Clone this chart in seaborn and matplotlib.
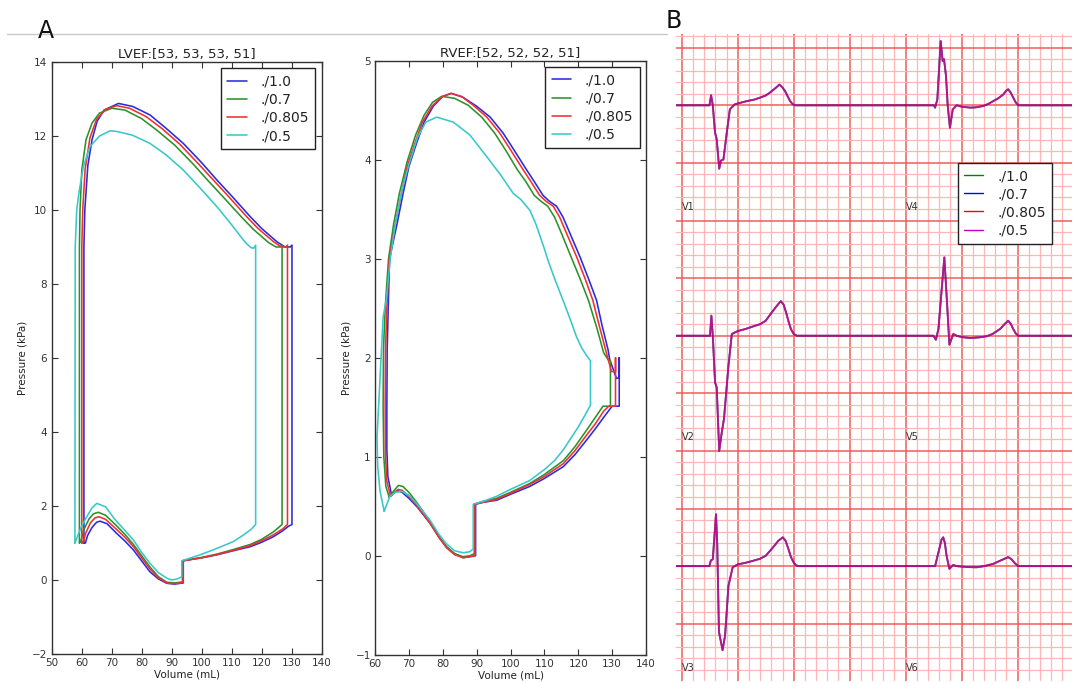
import numpy as np
import pandas as pd
import matplotlib
matplotlib.use("Agg")
import matplotlib.pyplot as plt
import seaborn as sns
from matplotlib.ticker import MultipleLocator
from matplotlib.lines import Line2D

# ---------------- data ----------------
series_labels = ["./1.0", "./0.7", "./0.805", "./0.5"]
lv_title = "LVEF:[53, 53, 53, 51]"
rv_title = "RVEF:[52, 52, 52, 51]"

# LV pressure-volume loops (mL, kPa)
lv_v_10 = [60.8, 61.3, 62.0, 63.5, 65.0, 66.2, 68.5, 71.7, 74.5, 77.3, 80.0, 82.8, 85.6, 88.4, 91.0, 93.9,
           93.9, 100.0, 105.1, 110.0, 116.2, 120.0, 123.9, 127.0, 128.9, 130.1,
           130.1, 129.5, 127.8, 125.1, 120.0, 116.2, 110.0, 105.1, 100.0, 93.9,
           88.0, 82.8, 77.0, 72.3, 67.5, 65.2, 63.5, 62.1, 61.1, 60.8, 60.8]
lv_p_10 = [1.00, 1.00, 1.20, 1.42, 1.56, 1.59, 1.52, 1.26, 1.05, 0.81, 0.52, 0.22, 0.03, -0.09, -0.11, -0.08,
           0.52, 0.60, 0.68, 0.78, 0.90, 1.02, 1.17, 1.33, 1.45, 1.50,
           9.05, 9.00, 9.00, 9.14, 9.50, 9.82, 10.38, 10.81, 11.28, 11.80,
           12.22, 12.57, 12.80, 12.88, 12.70, 12.40, 11.90, 11.20, 10.00, 9.00, 1.00]

lv_v_07 = [59.3, 59.8, 60.7, 62.5, 64.0, 65.6, 68.0, 71.5, 74.5, 77.3, 80.0, 82.8, 85.6, 88.4, 91.0, 93.6,
           93.6, 100.0, 105.1, 110.0, 116.2, 120.0, 123.9, 126.8,
           126.8, 126.2, 124.8, 122.3, 117.2, 113.4, 107.2, 102.3, 97.2, 91.1,
           85.2, 80.0, 74.5, 70.1, 66.0, 63.5, 61.5, 60.1, 59.5, 59.3, 59.3]
lv_p_07 = [1.00, 1.05, 1.35, 1.65, 1.79, 1.83, 1.75, 1.48, 1.23, 0.96, 0.66, 0.35, 0.09, -0.06, -0.08, -0.05,
           0.52, 0.61, 0.70, 0.81, 0.96, 1.10, 1.30, 1.50,
           9.05, 9.00, 9.00, 9.12, 9.48, 9.80, 10.35, 10.78, 11.24, 11.75,
           12.15, 12.47, 12.70, 12.75, 12.62, 12.35, 11.90, 11.08, 10.00, 9.00, 1.00]

lv_v_0805 = [60.1, 60.6, 61.3, 63.0, 64.5, 65.8, 68.0, 71.5, 74.5, 77.3, 80.0, 82.8, 85.6, 88.4, 91.0, 93.8,
             93.8, 100.0, 105.1, 110.0, 116.2, 120.0, 123.9, 127.0, 128.6,
             128.6, 128.0, 126.6, 124.0, 118.8, 115.0, 108.8, 103.9, 98.8, 92.7,
             86.8, 81.6, 76.0, 71.7, 68.0, 65.0, 62.8, 61.2, 60.4, 60.1, 60.1]
lv_p_0805 = [1.00, 1.02, 1.25, 1.55, 1.68, 1.71, 1.64, 1.38, 1.15, 0.90, 0.60, 0.30, 0.06, -0.08, -0.10, -0.07,
             0.52, 0.60, 0.69, 0.79, 0.93, 1.06, 1.22, 1.38, 1.50,
             9.05, 9.00, 9.00, 9.14, 9.50, 9.82, 10.38, 10.81, 11.26, 11.78,
             12.20, 12.52, 12.75, 12.82, 12.72, 12.45, 11.95, 11.10, 10.00, 9.00, 1.00]

lv_v_05 = [57.8, 58.5, 60.0, 61.9, 63.5, 65.1, 68.0, 71.0, 74.0, 77.3, 80.0, 82.8, 85.6, 88.4, 90.0, 92.0, 93.4,
           93.4, 99.5, 105.0, 110.6, 114.0, 116.5, 118.0,
           118.0, 117.4, 116.5, 115.5, 113.9, 110.0, 105.1, 100.0, 93.9, 88.0,
           82.8, 77.0, 72.0, 69.5, 66.0, 62.8, 60.6, 59.2, 58.4, 57.9, 57.8]
lv_p_05 = [1.00, 1.15, 1.45, 1.73, 1.95, 2.07, 1.98, 1.65, 1.38, 1.08, 0.75, 0.45, 0.20, 0.05, 0.00, 0.03, 0.09,
           0.52, 0.68, 0.85, 1.04, 1.22, 1.37, 1.50,
           9.05, 8.97, 8.98, 9.05, 9.19, 9.60, 10.09, 10.55, 11.08, 11.50,
           11.80, 12.02, 12.12, 12.14, 12.00, 11.71, 11.17, 10.50, 10.00, 9.00, 1.00]

# RV pressure-volume loops (mL, kPa)
rv_v_10 = [64.9, 65.8, 66.9, 68.0, 70.0, 72.5, 76.2, 79.0, 81.1, 83.5,
           86.0, 88.0, 89.7, 89.7, 92.0, 95.9, 100.0, 105.7, 110.0, 115.6,
           119.0, 122.5, 125.0, 128.0, 130.0, 132.1, 132.1, 132.1, 131.3, 129.3,
           128.8, 127.0, 125.4, 123.0, 120.5, 117.5, 115.5, 113.6, 111.5, 109.6,
           107.0, 104.7, 101.0, 97.8, 94.0, 90.0, 86.0, 82.6, 80.0, 77.2,
           74.5, 72.3, 70.0, 68.3, 66.5, 64.3, 63.9, 63.6, 63.5, 63.5, 63.8, 64.9]
rv_p_10 = [0.61, 0.64, 0.655, 0.64, 0.58, 0.49, 0.33, 0.18, 0.09, 0.02,
           -0.02, -0.01, 0.00, 0.52, 0.54, 0.56, 0.62, 0.70, 0.78, 0.90,
           1.02, 1.17, 1.28, 1.42, 1.51, 1.51, 2.00, 1.80, 1.79, 1.98,
           2.08, 2.33, 2.58, 2.80, 3.02, 3.26, 3.42, 3.53, 3.58, 3.64,
           3.78, 3.90, 4.10, 4.27, 4.43, 4.54, 4.63, 4.67, 4.64, 4.54,
           4.38, 4.17, 3.93, 3.66, 3.35, 3.00, 2.50, 2.08, 1.50, 1.07, 0.80, 0.61]

rv_v_07 = [64.2, 65.2, 66.9, 68.2, 70.0, 72.5, 76.2, 79.0, 81.1, 83.5,
           86.0, 88.0, 89.3, 89.3, 92.0, 95.9, 100.0, 105.7, 110.0, 115.6,
           119.0, 122.5, 125.5, 127.3, 129.5, 129.5, 128.8, 127.5, 125.5, 123.0,
           120.5, 117.5, 115.0, 113.0, 111.0, 109.0, 107.0, 104.5, 102.0, 98.5,
           95.3, 91.5, 87.5, 83.5, 79.7, 77.0, 74.5, 72.0, 69.5, 67.2,
           65.5, 64.0, 63.0, 62.5, 62.4, 62.6, 63.2, 64.2]
rv_p_07 = [0.59, 0.64, 0.71, 0.70, 0.64, 0.53, 0.35, 0.19, 0.09, 0.02,
           -0.01, 0.00, 0.02, 0.52, 0.55, 0.58, 0.64, 0.73, 0.82, 0.96,
           1.10, 1.27, 1.42, 1.51, 1.51, 1.97, 1.98, 2.05, 2.30, 2.58,
           2.80, 3.05, 3.26, 3.42, 3.53, 3.58, 3.64, 3.78, 3.90, 4.10,
           4.27, 4.43, 4.55, 4.62, 4.64, 4.58, 4.45, 4.25, 3.98, 3.66,
           3.35, 3.00, 2.50, 2.08, 1.50, 1.00, 0.70, 0.59]

rv_v_0805 = [64.6, 65.5, 66.8, 68.0, 70.0, 72.5, 76.2, 79.0, 81.1, 83.5,
             86.0, 88.0, 89.5, 89.5, 92.0, 95.9, 100.0, 105.7, 110.0, 115.6,
             119.0, 122.5, 125.0, 127.5, 129.0, 131.0, 131.0, 131.0, 129.8, 128.3,
             126.0, 124.3, 122.0, 119.5, 116.5, 114.5, 112.6, 110.5, 108.6, 106.0,
             103.7, 100.0, 96.8, 93.0, 89.0, 85.5, 82.3, 79.5, 76.8, 74.0,
             71.8, 69.5, 67.8, 66.0, 64.2, 63.5, 63.1, 63.0, 63.1, 63.5, 64.6]
rv_p_0805 = [0.60, 0.63, 0.67, 0.66, 0.60, 0.50, 0.33, 0.18, 0.08, 0.01,
             -0.02, -0.01, 0.00, 0.52, 0.54, 0.57, 0.63, 0.72, 0.80, 0.93,
             1.06, 1.22, 1.33, 1.46, 1.51, 1.51, 2.00, 1.86, 1.86, 2.05,
             2.35, 2.58, 2.80, 3.02, 3.26, 3.42, 3.53, 3.58, 3.64, 3.78,
             3.90, 4.10, 4.27, 4.43, 4.55, 4.64, 4.67, 4.63, 4.54, 4.38,
             4.17, 3.93, 3.66, 3.35, 3.00, 2.50, 2.08, 1.50, 1.00, 0.75, 0.60]

rv_v_05 = [62.7, 63.5, 64.4, 66.0, 67.9, 70.0, 72.5, 76.2, 79.0, 81.1,
           83.5, 86.0, 88.0, 89.0, 89.0, 92.0, 95.9, 100.0, 105.7, 110.0,
           113.0, 115.6, 117.5, 120.0, 122.0, 123.6, 123.6, 122.5, 121.0, 119.5,
           117.5, 115.5, 113.0, 111.0, 110.0, 107.5, 105.7, 103.0, 100.8, 97.0,
           93.0, 88.0, 83.1, 78.2, 75.0, 72.5, 70.0, 68.0, 66.0, 64.5,
           63.4, 62.4, 61.2, 60.6, 60.8, 61.5, 62.7]
rv_p_05 = [0.45, 0.52, 0.60, 0.64, 0.65, 0.61, 0.52, 0.36, 0.21, 0.12,
           0.05, 0.03, 0.04, 0.07, 0.52, 0.55, 0.60, 0.67, 0.76, 0.87,
           0.96, 1.07, 1.17, 1.30, 1.42, 1.52, 1.97, 2.02, 2.10, 2.21,
           2.40, 2.58, 2.80, 2.99, 3.10, 3.35, 3.49, 3.60, 3.66, 3.85,
           4.03, 4.25, 4.38, 4.43, 4.38, 4.22, 3.95, 3.70, 3.35, 3.00,
           2.60, 2.41, 1.60, 1.20, 0.90, 0.65, 0.45]

# ECG leads: time (s, from lead start) and amplitude (mV, relative to baseline)
ecg_leads = ["V1", "V2", "V3", "V4", "V5", "V6"]
v1_t = [-0.03, 0.099, 0.105, 0.111, 0.119, 0.125, 0.134, 0.140, 0.149, 0.161, 0.172, 0.19,
        0.23, 0.26, 0.28, 0.30, 0.315, 0.335, 0.349, 0.358, 0.369, 0.378, 0.387, 0.396, 0.405, 0.8]
v1_v = [0, 0, 0.087, 0, -0.237, -0.295, -0.55, -0.48, -0.47, -0.237, -0.035, 0.009,
        0.035, 0.05, 0.067, 0.085, 0.11, 0.15, 0.18, 0.16, 0.124, 0.08, 0.037, 0.01, 0, 0]
v2_t = [-0.03, 0.101, 0.106, 0.111, 0.119, 0.125, 0.134, 0.143, 0.151, 0.167, 0.179,
        0.2, 0.23, 0.26, 0.28, 0.30, 0.321, 0.34, 0.354, 0.364, 0.373, 0.382, 0.39, 0.40, 0.411, 0.8]
v2_v = [0, 0, 0.174, 0, -0.405, -0.448, -1.0, -0.84, -0.72, -0.26, 0.015,
        0.04, 0.06, 0.085, 0.10, 0.13, 0.20, 0.26, 0.30, 0.27, 0.20, 0.12, 0.058, 0.015, 0, 0]
v3_t = [-0.03, 0.099, 0.104, 0.111, 0.1225, 0.127, 0.133, 0.146, 0.155, 0.167, 0.182,
        0.2, 0.23, 0.26, 0.28, 0.30, 0.327, 0.345, 0.361, 0.371, 0.381, 0.39, 0.399, 0.408, 0.417, 0.8]
v3_v = [0, 0, 0.049, 0.06, 0.45, 0.18, -0.57, -0.73, -0.60, -0.17, -0.01,
        0.015, 0.03, 0.05, 0.064, 0.09, 0.165, 0.22, 0.25, 0.22, 0.15, 0.08, 0.035, 0.008, 0, 0]
v4_t = [0.0, 0.101, 0.105, 0.113, 0.125, 0.132, 0.137, 0.144, 0.15, 0.158, 0.168, 0.182,
        0.2, 0.23, 0.25, 0.277, 0.295, 0.313, 0.33, 0.349, 0.358, 0.366, 0.375, 0.384, 0.393, 0.402, 0.62]
v4_v = [0, 0, -0.02, 0.05, 0.558, 0.385, 0.40, 0.254, 0, -0.194, -0.035, 0,
        -0.012, -0.02, -0.018, -0.006, 0.012, 0.037, 0.06, 0.095, 0.125, 0.139, 0.11, 0.067, 0.025, 0, 0]
v5_t = [0.0, 0.099, 0.108, 0.117, 0.138, 0.149, 0.156, 0.17, 0.182,
        0.2, 0.23, 0.26, 0.289, 0.31, 0.337, 0.355, 0.366, 0.375, 0.384, 0.393, 0.402, 0.62]
v5_v = [0, 0, -0.035, 0.06, 0.68, 0.23, -0.078, 0.015, 0,
        -0.012, -0.02, -0.015, -0.005, 0.015, 0.058, 0.105, 0.13, 0.105, 0.058, 0.02, 0, 0]
v6_t = [0.0, 0.105, 0.12, 0.128, 0.134, 0.14, 0.146, 0.156, 0.17, 0.182,
        0.22, 0.254, 0.28, 0.313, 0.34, 0.366, 0.378, 0.39, 0.402, 0.62]
v6_v = [0, 0, 0.15, 0.23, 0.25, 0.2, 0.09, -0.023, 0.01, 0,
        -0.008, -0.01, 0, 0.02, 0.05, 0.078, 0.06, 0.025, 0, 0]

# ---------------- style ----------------
sns.set_theme(style="white", rc={
    "xtick.direction": "in", "ytick.direction": "in",
    "xtick.top": True, "ytick.right": True,
    "xtick.bottom": True, "ytick.left": True,
    "xtick.major.size": 4, "ytick.major.size": 4,
    "xtick.major.width": 0.8, "ytick.major.width": 0.8,
    "axes.edgecolor": "#333333", "axes.linewidth": 1.0,
    "xtick.color": "#333333", "ytick.color": "#333333",
    "text.color": "#222222", "axes.labelcolor": "#222222",
})
plt.rcParams["font.family"] = ["DejaVu Sans"]

W, H = 1078, 683
fig = plt.figure(figsize=(W / 100, H / 100), dpi=100)

def px_axes(l, r, t, b):
    return fig.add_axes([l / W, 1 - b / H, (r - l) / W, (b - t) / H])

pv_colors = ["#2a2ae0", "#2a922a", "#f03030", "#38c8c8"]

def draw_loop(ax, v, p, color, label):
    df = pd.DataFrame({"V": v, "P": p})
    sns.lineplot(data=df, x="V", y="P", sort=False, estimator=None,
                 color=color, lw=1.15, label=label, ax=ax)

def style_pv(ax, title, xlim, ylim, xstep, ystep):
    ax.set_xlim(*xlim)
    ax.set_ylim(*ylim)
    ax.xaxis.set_major_locator(MultipleLocator(xstep))
    ax.yaxis.set_major_locator(MultipleLocator(ystep))
    ax.tick_params(labelsize=7.5, pad=3)
    ax.set_xlabel("Volume (mL)", fontsize=7.5, labelpad=1)
    ax.set_ylabel("Pressure (kPa)", fontsize=7.5, labelpad=3)
    ax.set_title(title, fontsize=9.5, pad=3)
    leg = ax.legend(loc="upper right", fontsize=10, frameon=True, fancybox=False,
                    edgecolor="#222222", framealpha=1, handlelength=1.4,
                    handletextpad=1.0, labelspacing=0.3, borderpad=0.45,
                    borderaxespad=0.45)
    leg.get_frame().set_linewidth(1.0)

# LV panel
ax_lv = px_axes(51.5, 321.7, 62, 654)
for v, p, c, lab in zip([lv_v_10, lv_v_07, lv_v_0805, lv_v_05],
                        [lv_p_10, lv_p_07, lv_p_0805, lv_p_05],
                        pv_colors, series_labels):
    draw_loop(ax_lv, v, p, c, lab)
style_pv(ax_lv, lv_title, (50, 140), (-2, 14), 10, 2)

# RV panel
ax_rv = px_axes(375, 646, 60.7, 654.7)
for v, p, c, lab in zip([rv_v_10, rv_v_07, rv_v_0805, rv_v_05],
                        [rv_p_10, rv_p_07, rv_p_0805, rv_p_05],
                        pv_colors, series_labels):
    draw_loop(ax_rv, v, p, c, lab)
style_pv(ax_rv, rv_title, (60, 140), (-1, 5), 10, 1)

# ECG panel
ax_e = px_axes(676, 1072, 34, 681)
ax_e.set_xlim(-0.0204, 1.394)
ax_e.set_ylim(-0.497, 5.119)
ax_e.xaxis.set_major_locator(MultipleLocator(0.2))
ax_e.xaxis.set_minor_locator(MultipleLocator(0.04))
ax_e.yaxis.set_major_locator(MultipleLocator(0.5))
ax_e.yaxis.set_minor_locator(MultipleLocator(0.1))
ax_e.grid(which="minor", color="#ffb6b6", lw=0.9)
ax_e.grid(which="major", color="#f25c5c", lw=1.1)
ax_e.set_axisbelow(True)
ax_e.tick_params(which="both", length=0, labelbottom=False, labelleft=False,
                 labeltop=False, labelright=False)
for s in ax_e.spines.values():
    s.set_visible(False)

ecg_t = [v1_t, v2_t, v3_t, v4_t, v5_t, v6_t]
ecg_v = [v1_v, v2_v, v3_v, v4_v, v5_v, v6_v]
col_start = [0.0, 0.0, 0.0, 0.8, 0.8, 0.8]
row_base = [4.5, 2.5, 0.5, 4.5, 2.5, 0.5]
ecg_colors = ["#008000", "#0000ff", "#ff0000", "#bf00bf"]
for name, tt, vv, x0, y0 in zip(ecg_leads, ecg_t, ecg_v, col_start, row_base):
    df = pd.DataFrame({"t": np.array(tt) + x0, "mv": np.array(vv) + y0})
    for c in ecg_colors:
        sns.lineplot(data=df, x="t", y="mv", sort=False, estimator=None,
                     color=c, lw=1.3, alpha=0.5, ax=ax_e, legend=False)
    ax_e.text(x0 + 0.001, y0 - 0.88, name, fontsize=7, color="#333333",
              ha="left", va="center")
ax_e.set_xlabel("")
ax_e.set_ylabel("")
handles = [Line2D([0], [0], color=c, lw=1.0) for c in ecg_colors]
leg = ax_e.legend(handles, series_labels, loc="upper left",
                  bbox_to_anchor=(0.711, 0.801), borderaxespad=0, fontsize=10,
                  frameon=True, fancybox=False, edgecolor="#222222", framealpha=1,
                  handlelength=1.4, handletextpad=1.0, labelspacing=0.3, borderpad=0.45)
leg.get_frame().set_linewidth(1.0)

# panel decorations
fig.add_artist(Line2D([7 / W, 667 / W], [1 - 34 / H, 1 - 34 / H],
                      color="#c8c8c8", lw=1.0))
fig.text(38 / W, 1 - 38 / H, "A", fontsize=17, color="#111111", ha="left", va="baseline")
fig.text(666 / W, 1 - 28 / H, "B", fontsize=17, color="#111111", ha="left", va="baseline")

fig.savefig("out.png", dpi=100)
